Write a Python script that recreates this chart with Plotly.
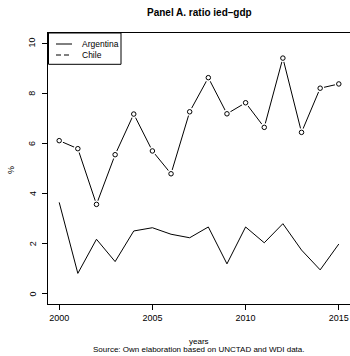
import plotly.graph_objects as go

years = list(range(2000, 2016))
argentina = [3.65, 0.82, 2.18, 1.29, 2.51, 2.64, 2.38, 2.24, 2.67, 1.20, 2.67, 2.04, 2.80, 1.75, 0.96, 1.99]
chile = [6.11, 5.79, 3.57, 5.55, 7.17, 5.70, 4.79, 7.26, 8.62, 7.18, 7.62, 6.64, 9.40, 6.44, 8.20, 8.37]

x_ticks = [2000, 2005, 2010, 2015]
y_ticks = [0, 2, 4, 6, 8, 10]
legend_labels = ["Argentina", "Chile"]
title_text = "Panel A. ratio ied\u2013gdp"
x_title = "years"
y_title = "%"
source_text = "Source: Own elaboration based on UNCTAD and WDI data."

FONT = "Liberation Sans, Arial, Helvetica, sans-serif"
W, H = 350, 356
ML, MR, MT, MB = 48, 0, 33, 52
PW, PH = W - ML - MR, H - MT - MB


def px_x(px):
    return (px - ML) / PW


def px_y(py):
    return (H - MB - py) / PH


fig = go.Figure()

# Argentina: plain line
fig.add_trace(go.Scatter(x=years, y=argentina, mode="lines",
                         line=dict(color="black", width=1), showlegend=False,
                         hoverinfo="skip"))
# Chile: line with points and gaps (type "b")
fig.add_trace(go.Scatter(x=years, y=chile, mode="lines",
                         line=dict(color="black", width=1), showlegend=False,
                         hoverinfo="skip"))
fig.add_trace(go.Scatter(x=years, y=chile, mode="markers",
                         marker=dict(symbol="circle", size=8, color="white",
                                     line=dict(width=0)),
                         showlegend=False, hoverinfo="skip"))
fig.add_trace(go.Scatter(x=years, y=chile, mode="markers",
                         marker=dict(symbol="circle-open", size=4.5, color="black",
                                     line=dict(width=1, color="black")),
                         showlegend=False, hoverinfo="skip"))

shapes = []
annotations = []

# Legend box (drawn manually, R style)
shapes.append(dict(type="rect", xref="paper", yref="paper",
                   x0=px_x(48.5), x1=px_x(121), y0=px_y(64.3), y1=px_y(33),
                   line=dict(color="black", width=1), fillcolor="white", layer="above"))
legend_y = [44, 55]
legend_dash = ["solid", "5px,3px"]
for lab, ly, dash in zip(legend_labels, legend_y, legend_dash):
    shapes.append(dict(type="line", xref="paper", yref="paper",
                       x0=px_x(56), x1=px_x(72), y0=px_y(ly), y1=px_y(ly),
                       line=dict(color="black", width=1, dash=dash), layer="above"))
    annotations.append(dict(text=lab, xref="paper", yref="paper",
                            x=px_x(80), y=px_y(ly), xanchor="left", yanchor="middle",
                            showarrow=False, font=dict(family=FONT, size=8.5, color="black")))

# Y tick labels (rotated, R style placement)
for v in y_ticks:
    annotations.append(dict(text=str(v), xref="paper", yref="y",
                            x=px_x(32.5), y=v, xanchor="center", yanchor="middle",
                            textangle=-90, showarrow=False,
                            font=dict(family=FONT, size=9, color="black")))

annotations.append(dict(text="<b>" + title_text + "</b>", xref="paper", yref="paper",
                        x=px_x(199), y=px_y(13), xanchor="center", yanchor="middle",
                        showarrow=False, font=dict(family=FONT, size=10, color="black")))
annotations.append(dict(text=x_title, xref="paper", yref="paper",
                        x=px_x(199), y=px_y(342), xanchor="center", yanchor="middle",
                        showarrow=False, font=dict(family=FONT, size=8, color="black")))
annotations.append(dict(text=source_text, xref="paper", yref="paper",
                        x=px_x(199), y=px_y(349.5), xanchor="center", yanchor="middle",
                        showarrow=False, font=dict(family=FONT, size=8, color="black")))
annotations.append(dict(text=y_title, xref="paper", yref="paper",
                        x=px_x(11), y=px_y(170), xanchor="center", yanchor="middle",
                        textangle=-90,
                        showarrow=False, font=dict(family=FONT, size=9, color="black")))

fig.update_layout(
    width=W, height=H,
    margin=dict(l=ML, r=MR, t=MT, b=MB, pad=0),
    paper_bgcolor="white", plot_bgcolor="white",
    showlegend=False,
    shapes=shapes, annotations=annotations,
    font=dict(family=FONT, size=9, color="black"),
    xaxis=dict(range=[1999.4, 2015.6], tickvals=x_ticks,
               ticktext=[str(v) for v in x_ticks],
               showgrid=False, zeroline=False,
               showline=True, linecolor="black", linewidth=1, mirror=True,
               ticks="outside", ticklen=5, tickcolor="black", tickwidth=1,
               tickfont=dict(family=FONT, size=9, color="black")),
    yaxis=dict(range=[-0.4, 10.4], tickvals=y_ticks,
               showticklabels=False,
               showgrid=False, zeroline=False,
               showline=True, linecolor="black", linewidth=1, mirror=False,
               ticks="outside", ticklen=5, tickcolor="black", tickwidth=1),
)

fig.write_html("out.html")
